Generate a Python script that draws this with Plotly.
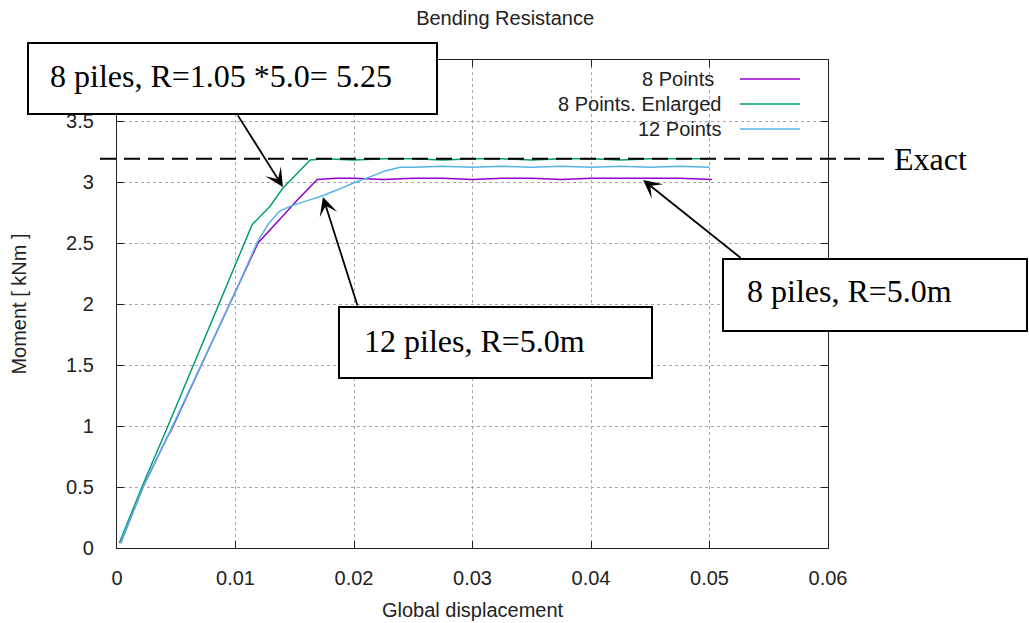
import plotly.graph_objects as go

# ---------------- data ----------------
x_8pts = [0.0003, 0.0022, 0.0042, 0.0046, 0.0075, 0.0100, 0.0119, 0.0137, 0.0152, 0.0169,
          0.0185, 0.0200, 0.0225, 0.0250, 0.0275, 0.0300, 0.0325, 0.0350, 0.0375, 0.0400,
          0.0425, 0.0450, 0.0475, 0.0502]
y_8pts = [0.04, 0.50, 0.90, 0.97, 1.58, 2.10, 2.50, 2.69, 2.85, 3.02,
          3.03, 3.03, 3.02, 3.03, 3.03, 3.02, 3.03, 3.03, 3.02, 3.03,
          3.03, 3.03, 3.03, 3.02]

x_8enl = [0.0002, 0.0021, 0.0043, 0.0070, 0.0095, 0.0114, 0.0129, 0.0140, 0.0152, 0.0163,
          0.0175, 0.0200, 0.0225, 0.0250, 0.0275, 0.0300, 0.0325, 0.0350, 0.0375, 0.0400,
          0.0425, 0.0450, 0.0475, 0.0500]
y_8enl = [0.04, 0.50, 1.00, 1.63, 2.21, 2.65, 2.80, 2.95, 3.07, 3.18,
          3.19, 3.18, 3.19, 3.19, 3.18, 3.19, 3.19, 3.18, 3.19, 3.19,
          3.18, 3.19, 3.19, 3.19]

x_12pts = [0.0003, 0.0022, 0.0046, 0.0075, 0.0100, 0.0119, 0.0128, 0.0137, 0.0146, 0.0160,
           0.0174, 0.0187, 0.0199, 0.0213, 0.0226, 0.0239, 0.0250, 0.0275, 0.0300, 0.0325,
           0.0350, 0.0375, 0.0400, 0.0425, 0.0450, 0.0475, 0.0500]
y_12pts = [0.04, 0.50, 0.98, 1.58, 2.10, 2.52, 2.66, 2.76, 2.80, 2.845,
           2.89, 2.94, 2.99, 3.04, 3.09, 3.12, 3.12, 3.13, 3.12, 3.13,
           3.12, 3.13, 3.12, 3.13, 3.12, 3.13, 3.12]

series_names = ["8 Points", "8 Points. Enlarged", "12 Points"]
series_colors = ["#9400d3", "#009e73", "#56b4e9"]

exact_value = 3.19

x_ticks = [0, 0.01, 0.02, 0.03, 0.04, 0.05, 0.06]
y_ticks = [0, 0.5, 1, 1.5, 2, 2.5, 3, 3.5, 4]
y_ticklabels = ["0", "0.5", "1", "1.5", "2", "2.5", "3", "3.5", ""]  # "4" hidden under the callout box

# ---------------- layout helpers (pixel -> paper) ----------------
W, H = 1029, 623
L, R, T, B = 117, 828, 60, 548


def PX(px):
    return (px - L) / (R - L)


def PY(py):
    return (B - py) / (B - T)


SANS = "Liberation Sans, Arial, sans-serif"
SERIF = "Liberation Serif, Times New Roman, serif"
TXT = "#222222"

fig = go.Figure()
for xs, ys, name, col in zip([x_8pts, x_8enl, x_12pts], [y_8pts, y_8enl, y_12pts],
                             series_names, series_colors):
    fig.add_trace(go.Scatter(x=xs, y=ys, mode="lines", name=name,
                             line=dict(color=col, width=1.5), showlegend=False))

axis_common = dict(showgrid=True, gridcolor="#a8a8a8", griddash="dot", gridwidth=1,
                   showline=True, linecolor="#222", linewidth=1.3, mirror="ticks",
                   ticks="inside", ticklen=7, tickcolor="#222", tickwidth=1.3,
                   zeroline=False, tickfont=dict(family=SANS, size=20, color=TXT))

fig.update_layout(
    width=W, height=H,
    margin=dict(l=L, r=W - R, t=T, b=H - B, autoexpand=False),
    paper_bgcolor="white", plot_bgcolor="white",
    title=dict(text="Bending Resistance", x=PX(466), xanchor="center",
               y=1 - 18 / H, yanchor="middle",
               font=dict(family=SANS, size=20, color=TXT)),
    xaxis=dict(range=[0, 0.06], tickvals=x_ticks,
               ticktext=[f"{v:g}" for v in x_ticks], ticklabelstandoff=12,
               title=dict(text="Global displacement", standoff=14,
                          font=dict(family=SANS, size=20, color=TXT)),
               **axis_common),
    yaxis=dict(range=[0, 4], tickvals=y_ticks,
               ticktext=y_ticklabels, ticklabelstandoff=18,
               title=dict(text="Moment [ kNm ]", standoff=34,
                          font=dict(family=SANS, size=20, color=TXT)),
               **axis_common),
    showlegend=False,
)

# Exact dashed line
fig.add_shape(type="line", xref="paper", yref="y", x0=PX(100), x1=PX(891),
              y0=exact_value, y1=exact_value,
              line=dict(color="black", width=2, dash="16px,8px"), layer="above")
fig.add_annotation(text="Exact", xref="paper", yref="y", x=PX(892), y=exact_value,
                   xanchor="left", yanchor="middle", showarrow=False,
                   font=dict(family=SERIF, size=32, color="black"))

# Legend (gnuplot style: text right, sample line)
leg_y = [79, 104, 129]
leg_x = [716, 723, 723]
for name, col, py, px in zip(series_names, series_colors, leg_y, leg_x):
    fig.add_annotation(text=name, xref="paper", yref="paper", x=PX(px), y=PY(py),
                       xanchor="right", yanchor="middle", showarrow=False,
                       font=dict(family=SANS, size=20, color=TXT))
    fig.add_shape(type="line", xref="paper", yref="paper", x0=PX(740), x1=PX(800),
                  y0=PY(py), y1=PY(py), line=dict(color=col, width=1.5), layer="above")

# Callout boxes
boxes = [
    ("8 piles, R=1.05 *5.0= 5.25", (28, 43, 437, 114), 48, 76),
    ("12 piles, R=5.0m", (339, 307, 652, 378), 362, 341),
    ("8 piles, R=5.0m", (723, 259, 1027, 331), 745, 291),
]
for text, (x0, y0, x1, y1), tx, ty in boxes:
    fig.add_shape(type="rect", xref="paper", yref="paper", x0=PX(x0), x1=PX(x1),
                  y0=PY(y0), y1=PY(y1), fillcolor="white",
                  line=dict(color="black", width=2), layer="above")
    fig.add_annotation(text=text, xref="paper", yref="paper", x=PX(tx), y=PY(ty),
                       xanchor="left", yanchor="middle", showarrow=False,
                       font=dict(family=SERIF, size=32, color="black"))

# Arrows (head in data coords, tail offset in pixels)
arrows = [
    (0.0140, 2.96, -46, -73),
    (0.01738, 2.877, 35, 110),
    (0.0444, 3.016, 99, 79),
]
for hx, hy, ax, ay in arrows:
    fig.add_annotation(text="", x=hx, y=hy, xref="x", yref="y", ax=ax, ay=ay,
                       showarrow=True, arrowhead=3, arrowsize=1.7, arrowwidth=1.8,
                       arrowcolor="black", standoff=0)

fig.write_html("out.html", config={"displayModeBar": False},
               post_script="document.body.style.margin='0';")
